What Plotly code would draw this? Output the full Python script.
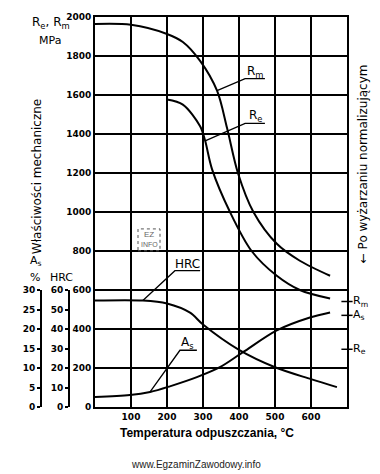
import plotly.graph_objects as go

# ---------------- data ----------------
rm_temp = [0, 100, 200, 244, 292, 339, 367, 397, 440, 505, 569, 653]
rm_mpa = [1964, 1960, 1913, 1872, 1775, 1622, 1429, 1200, 1000, 837, 750, 673]

re_temp = [200, 244, 292, 306, 325, 375, 435, 505, 569, 653]
re_mpa = [1577, 1551, 1440, 1365, 1220, 1000, 800, 673, 600, 556]

hrc_temp = [0, 133, 200, 264, 300, 400, 500, 600, 672]
hrc_val = [54.6, 54.6, 53.1, 48.4, 42.3, 29.3, 20.4, 14.3, 10.2]

as_temp = [0, 97, 153, 208, 283, 347, 411, 505, 597, 653]
as_pct = [2.55, 3.05, 3.85, 5.3, 7.65, 10.2, 14.05, 19.65, 22.95, 24.25]

# values after normalizing (markers on the right edge)
norm_rm = 541
norm_re = 296
norm_as = 23.5

x_ticks = [100, 200, 300, 400, 500, 600]
mpa_ticks = list(range(0, 2001, 200))
hrc_ticks = list(range(0, 61, 10))
as_ticks = list(range(0, 31, 5))

X_MAX = 700
MPA_MAX = 2000
HRC_MAX = 60
AS_MAX = 30
MPA_PER_HRC = 600 / HRC_MAX
MPA_PER_AS = 600 / AS_MAX

FONT = "DejaVu Sans"
FONT2 = "Liberation Sans"

W, H = 380, 474
ML, MR, MT, MB = 15, 33, 15, 67
PW = W - ML - MR
PH = H - MT - MB


def px(xp):
    return (xp - ML) / PW


def py(yp):
    return (H - MB - yp) / PH


fig = go.Figure()

line_style = dict(color="black", width=2, shape="spline", smoothing=0.9)

fig.add_trace(go.Scatter(x=rm_temp, y=rm_mpa, mode="lines", line=line_style,
                         xaxis="x", yaxis="y", showlegend=False, hoverinfo="skip"))
fig.add_trace(go.Scatter(x=re_temp, y=re_mpa, mode="lines", line=line_style,
                         xaxis="x", yaxis="y", showlegend=False, hoverinfo="skip"))
fig.add_trace(go.Scatter(x=hrc_temp, y=hrc_val, mode="lines", line=line_style,
                         xaxis="x", yaxis="y2", showlegend=False, hoverinfo="skip"))
fig.add_trace(go.Scatter(x=as_temp, y=as_pct, mode="lines", line=line_style,
                         xaxis="x", yaxis="y3", showlegend=False, hoverinfo="skip"))

# normalized-state markers on the right edge
mk = dict(symbol="line-ew", size=8, line=dict(color="black", width=1.5), color="black")
tf = dict(family=FONT, size=11, color="black")
fig.add_trace(go.Scatter(x=[X_MAX, X_MAX], y=[norm_rm, norm_re], mode="markers+text",
                         marker=mk, text=["R<sub>m</sub>", "R<sub>e</sub>"],
                         textposition="middle right", textfont=tf, cliponaxis=False,
                         xaxis="x", yaxis="y", showlegend=False, hoverinfo="skip"))
fig.add_trace(go.Scatter(x=[X_MAX], y=[norm_as], mode="markers+text",
                         marker=mk, text=["A<sub>s</sub>"],
                         textposition="middle right", textfont=tf, cliponaxis=False,
                         xaxis="x", yaxis="y3", showlegend=False, hoverinfo="skip"))

# ---------------- leader lines + labels ----------------
def leader(x0, y0, x1, y1, x2, label, lx, ly):
    fig.add_shape(type="path", xref="x", yref="y",
                  path=f"M {x0},{y0} L {x1},{y1} L {x2},{y1}",
                  line=dict(color="black", width=1.3))
    fig.add_annotation(x=lx, y=ly, xref="x", yref="y", text=label, showarrow=False,
                       xanchor="center", yanchor="middle",
                       font=dict(family=FONT, size=12, color="black"))

leader(rm_temp[5], rm_mpa[5], 417, 1684, 472, "R<sub>m</sub>", 447, 1718)
leader(re_temp[3], re_mpa[3], 417, 1454, 472, "R<sub>e</sub>", 447, 1490)
leader(hrc_temp[1], hrc_val[1] * MPA_PER_HRC, 222, 699, 292, "HRC", 257, 735)
leader(as_temp[2], as_pct[2] * MPA_PER_AS, 236, 291, 283, "A<sub>s</sub>", 258, 328)

# ---------------- text ----------------
def note(text, x, y, size=11, angle=0, family=FONT, color="black", **kw):
    fig.add_annotation(x=px(x), y=py(y), xref="paper", yref="paper", text=text,
                       showarrow=False, textangle=angle,
                       xanchor="center", yanchor="middle",
                       font=dict(family=family, size=size, color=color), **kw)

note("R<sub>e</sub>, R<sub>m</sub>", 51, 21, size=12)
note("MPa", 50, 39, size=11)
note("Właściwości mechaniczne", 37, 176, size=12, angle=-90)
note("A<sub>s</sub>", 36, 260, size=11)
note("%", 35, 277, size=11)
note("HRC", 61, 277, size=11)
note("← Po wyżarzaniu normalizującym", 363, 163, size=12, angle=-90)
note("<b>Temperatura odpuszczania, °C</b>", 207, 433, size=12, family=FONT2)
note("www.EgzaminZawodowy.info", 196, 465, size=10, family=FONT2, color="#222")

# watermark box
fig.add_shape(type="rect", xref="paper", yref="paper",
              x0=px(138), x1=px(160), y0=py(250), y1=py(228),
              line=dict(color="#555", width=1, dash="dot"))
note("EZ", 149, 234, size=8, family=FONT2, color="#666")
note("INFO", 149, 244, size=7, family=FONT2, color="#666")

tickfont = dict(family=FONT, size=9, color="black", weight="bold")

fig.update_layout(
    width=W, height=H,
    margin=dict(l=ML, r=MR, t=MT, b=MB),
    paper_bgcolor="white", plot_bgcolor="rgba(0,0,0,0)",
    showlegend=False,
    xaxis=dict(domain=[px(95), 1], range=[0, X_MAX], tickvals=x_ticks,
               showgrid=True, gridcolor="black", gridwidth=2,
               showline=True, linecolor="black", linewidth=2, mirror=True,
               zeroline=False, ticks="", tickfont=tickfont, fixedrange=True),
    yaxis=dict(domain=[0, 1], range=[0, MPA_MAX], tickvals=mpa_ticks,
               showgrid=True, gridcolor="black", gridwidth=2,
               showline=True, linecolor="black", linewidth=2, mirror=True,
               zeroline=False, ticks="", tickfont=tickfont, fixedrange=True),
    yaxis2=dict(domain=[0, 600 / MPA_MAX], range=[0, HRC_MAX], tickvals=hrc_ticks,
                anchor="free", position=px(69), side="left",
                showgrid=False, showline=True, linecolor="black", linewidth=2,
                zeroline=False, ticks="outside", ticklen=3, tickwidth=1.5,
                tickcolor="black", tickfont=tickfont, fixedrange=True),
    yaxis3=dict(domain=[0, 600 / MPA_MAX], range=[0, AS_MAX], tickvals=as_ticks,
                anchor="free", position=px(41), side="left", overlaying="y2",
                showgrid=False, showline=True, linecolor="black", linewidth=2,
                zeroline=False, ticks="outside", ticklen=3, tickwidth=1.5,
                tickcolor="black", tickfont=tickfont, fixedrange=True),
)

fig.write_html(
    "out.html",
    config={"displayModeBar": False},
    post_script="document.body.style.margin='0';document.body.style.overflow='hidden';",
)
